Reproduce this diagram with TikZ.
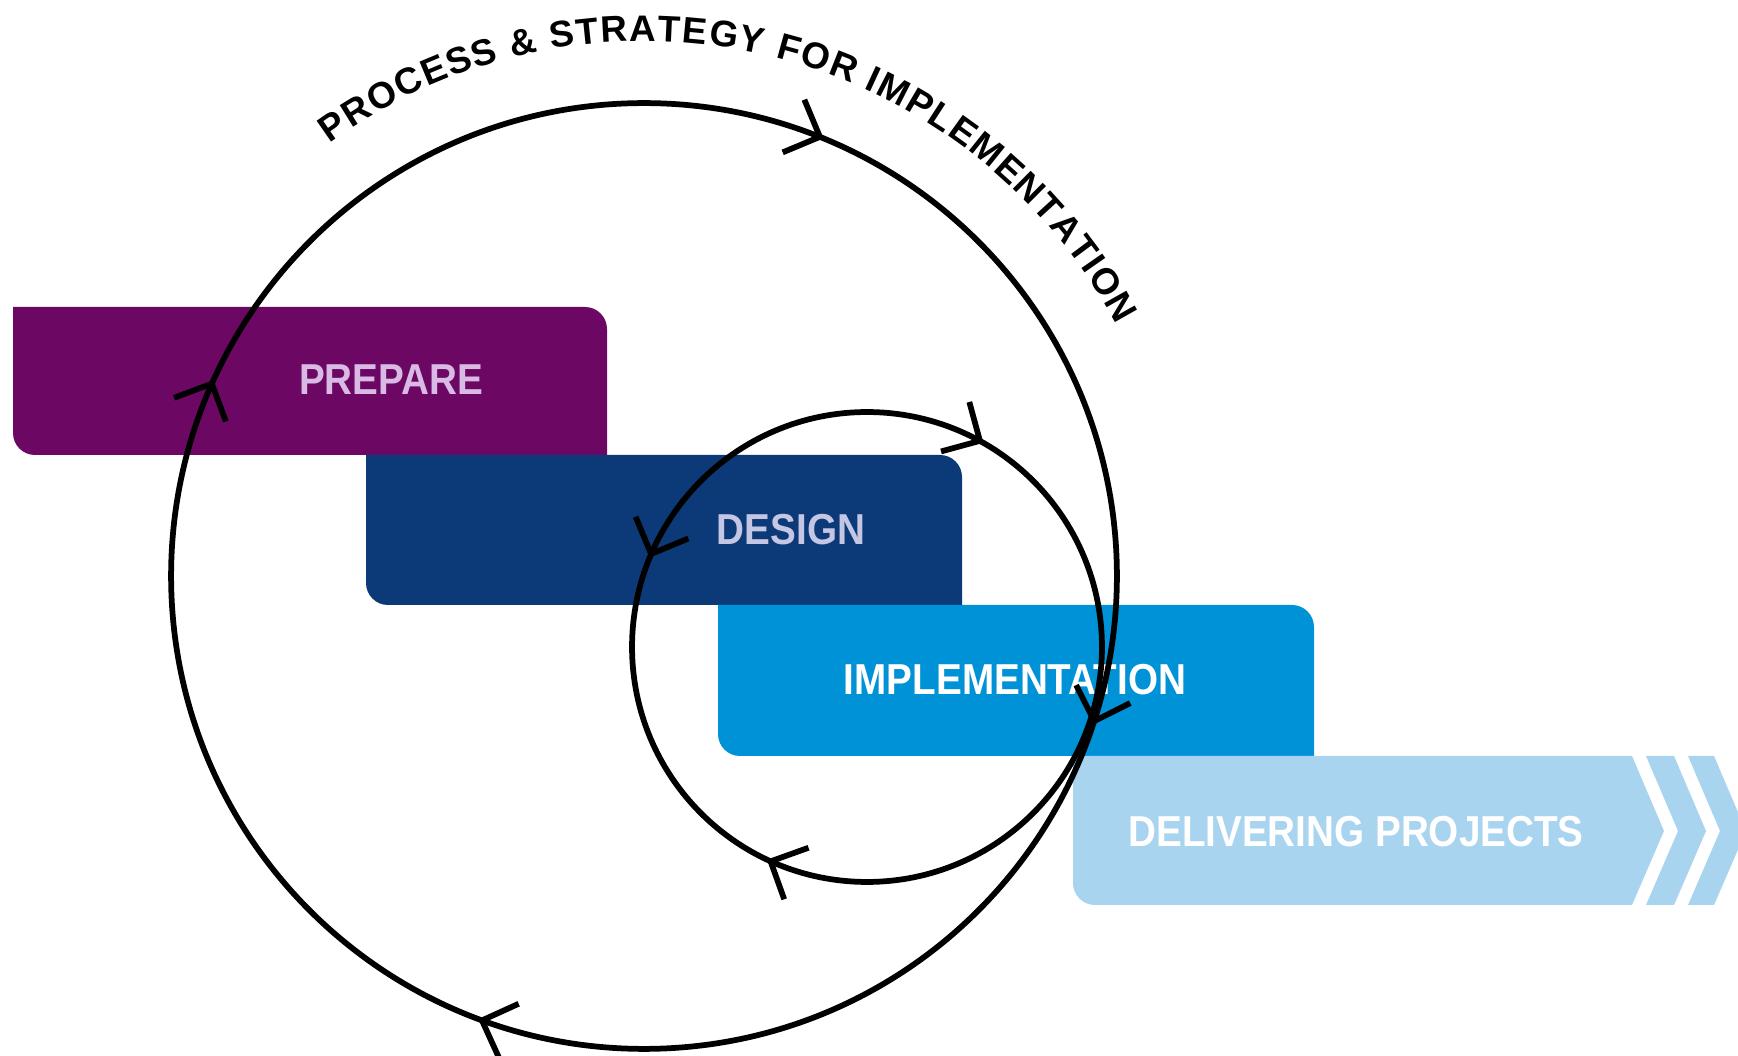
\documentclass[tikz,border=0pt]{standalone}
\usepackage{fontspec}
\setmainfont{Liberation Sans}
\usetikzlibrary{arrows.meta,decorations.markings,decorations.text}
\definecolor{preparecol}{RGB}{108,8,100}
\definecolor{designcol}{RGB}{12,58,120}
\definecolor{implcol}{RGB}{0,146,214}
\definecolor{delivcol}{RGB}{168,212,240}
\definecolor{preparetext}{RGB}{216,186,228}
\definecolor{designtext}{RGB}{196,198,228}
\newcommand{\titlefnt}{\fontsize{21}{24}\selectfont\bfseries}
\newcommand{\tall}[1]{\scalebox{1}[1.12]{#1}}
\tikzset{
  boxlabel/.style={inner sep=0pt, font=\fontsize{22}{26}\selectfont\bfseries},
  loopline/.style={draw=black, line width=0.115cm},
  barbtip/.tip={Straight Barb[length=0.57cm, width=1.14cm]},
}
\begin{document}
\begin{tikzpicture}[x=0.02cm, y=0.02cm]
\useasboundingbox (0,0) rectangle (1738,1055);
\fill[white] (0,0) rectangle (1738,1055);
% boxes
\fill[preparecol] (13,748) -- (585,748) arc[start angle=90, end angle=0, radius=0.44cm] -- (607,600) -- (35,600) arc[start angle=270, end angle=180, radius=0.44cm] -- cycle;
\fill[designcol] (366,600) -- (940,600) arc[start angle=90, end angle=0, radius=0.44cm] -- (962,450) -- (388,450) arc[start angle=270, end angle=180, radius=0.44cm] -- cycle;
\fill[implcol] (718,450) -- (1292,450) arc[start angle=90, end angle=0, radius=0.44cm] -- (1314,299) -- (740,299) arc[start angle=270, end angle=180, radius=0.44cm] -- cycle;
\fill[delivcol] (1073,299) -- (1632,299) -- (1664,224) -- (1632,150) -- (1095,150) arc[start angle=270, end angle=180, radius=0.44cm] -- cycle;
\fill[delivcol] (1646,299) -- (1674,299) -- (1706,224) -- (1674,150) -- (1646,150) -- (1678,224) -- cycle;
\fill[delivcol] (1688,299) -- (1714,299) -- (1746,224) -- (1714,150) -- (1688,150) -- (1720,224) -- cycle;
% labels
\node[boxlabel, text=preparetext] (prepare) at (391,675) {\tall{PREPARE}};
\node[boxlabel, text=designtext] (design) at (791,525) {\tall{DESIGN}};
\node[boxlabel, text=white] (impl) at (1015,375) {\tall{IMPLEMENTATION}};
\node[boxlabel, text=white] (deliv) at (1356,223) {\tall{DELIVERING PROJECTS}};
% loops
\coordinate (bigc) at (644,479);
\coordinate (smallc) at (867,408);
\path[loopline, postaction={decorate}, decoration={markings,
   mark=at position 0.062 with {\arrow{barbtip}},
   mark=at position 0.301 with {\arrow{barbtip}},
   mark=at position 0.557 with {\arrow{barbtip}},
   mark=at position 0.818 with {\arrow{barbtip}}}]
  (bigc) ++(90:9.46cm) arc[start angle=90, end angle=-270, radius=9.46cm];
\path[loopline, postaction={decorate}, decoration={markings,
   mark=at position 0.0825 with {\arrow{barbtip}},
   mark=at position 0.570 with {\arrow{barbtip}},
   mark=at position 0.812 with {\arrowreversed{barbtip}}}]
  (smallc) ++(90:4.7cm) arc[start angle=90, end angle=-270, radius=4.7cm];
% title along arc
\path[decorate, decoration={text along path,
   text={|\titlefnt|PROCESS {\&} STRATEGY FOR IMPLEMENTATION},
   text align={fit to path}}]
  (bigc) ++(126:10.7cm) arc[start angle=126, end angle=28, radius=10.7cm];
\end{tikzpicture}
\end{document}
